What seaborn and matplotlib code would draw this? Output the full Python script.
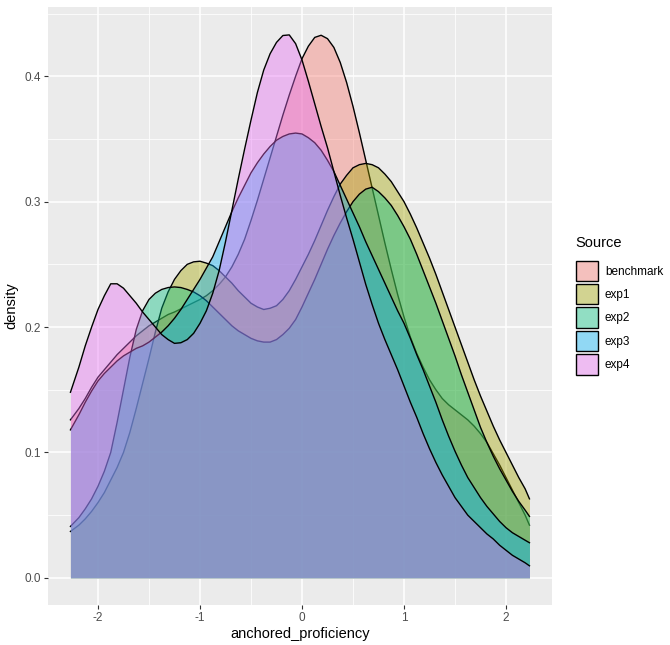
import matplotlib
matplotlib.use("Agg")
import matplotlib.pyplot as plt
import numpy as np
import pandas as pd
import seaborn as sns
from matplotlib.patches import Patch
from matplotlib.colors import to_rgb

# ---------------- data ----------------
x_grid = [-2.27, -2.1875, -2.125, -2.0625, -2.0, -1.9375, -1.875, -1.8125,
          -1.75, -1.6875, -1.625, -1.5625, -1.5, -1.4375, -1.375, -1.3125,
          -1.25, -1.1875, -1.125, -1.0625, -1.0, -0.9375, -0.875, -0.8125,
          -0.75, -0.6875, -0.625, -0.5625, -0.5, -0.4375, -0.375, -0.3125,
          -0.25, -0.1875, -0.125, -0.0625, 0.0, 0.0625, 0.125, 0.1875,
          0.25, 0.3125, 0.375, 0.4375, 0.5, 0.5625, 0.625, 0.6875,
          0.75, 0.8125, 0.875, 0.9375, 1.0, 1.0625, 1.125, 1.1875,
          1.25, 1.3125, 1.375, 1.4375, 1.5, 1.5625, 1.625, 1.6875,
          1.75, 1.8125, 1.875, 1.9375, 2.0, 2.0625, 2.125, 2.1875,
          2.23]

benchmark = [0.126, 0.135, 0.143, 0.152, 0.160, 0.166, 0.172, 0.178,
             0.183, 0.188, 0.193, 0.197, 0.201, 0.204, 0.207, 0.210,
             0.212, 0.2145, 0.217, 0.2195, 0.222, 0.225, 0.229, 0.234,
             0.240, 0.248, 0.258, 0.270, 0.285, 0.301, 0.318, 0.335,
             0.352, 0.369, 0.385, 0.400, 0.414, 0.424, 0.431, 0.4327,
             0.430, 0.423, 0.411, 0.395, 0.376, 0.355, 0.333, 0.311,
             0.289, 0.267, 0.246, 0.226, 0.208, 0.192, 0.179, 0.168,
             0.158, 0.150, 0.143, 0.138, 0.134, 0.130, 0.126, 0.121,
             0.115, 0.108, 0.099, 0.090, 0.080, 0.070, 0.060, 0.050,
             0.042]

exp1 = [0.037, 0.042, 0.047, 0.053, 0.060, 0.068, 0.078, 0.088,
        0.100, 0.116, 0.135, 0.155, 0.175, 0.196, 0.215, 0.228,
        0.238, 0.245, 0.250, 0.252, 0.2525, 0.251, 0.249, 0.245,
        0.240, 0.235, 0.229, 0.224, 0.219, 0.216, 0.214, 0.215,
        0.217, 0.222, 0.229, 0.238, 0.248, 0.258, 0.269, 0.281,
        0.293, 0.304, 0.314, 0.321, 0.327, 0.3295, 0.3305, 0.3295,
        0.327, 0.322, 0.316, 0.308, 0.300, 0.290, 0.279, 0.267,
        0.255, 0.242, 0.228, 0.214, 0.200, 0.186, 0.172, 0.158,
        0.145, 0.133, 0.121, 0.110, 0.100, 0.090, 0.080, 0.071,
        0.063]

exp2 = [0.041, 0.048, 0.055, 0.063, 0.073, 0.085, 0.100, 0.124,
        0.150, 0.176, 0.198, 0.213, 0.222, 0.227, 0.230, 0.2315,
        0.232, 0.2315, 0.230, 0.228, 0.225, 0.221, 0.216, 0.211,
        0.206, 0.201, 0.197, 0.194, 0.191, 0.189, 0.188, 0.188,
        0.190, 0.194, 0.199, 0.206, 0.216, 0.227, 0.238, 0.250,
        0.262, 0.273, 0.283, 0.292, 0.300, 0.306, 0.310, 0.3115,
        0.308, 0.303, 0.297, 0.289, 0.280, 0.270, 0.258, 0.245,
        0.232, 0.219, 0.205, 0.191, 0.177, 0.162, 0.148, 0.134,
        0.120, 0.108, 0.097, 0.087, 0.078, 0.069, 0.061, 0.054,
        0.049]

exp3 = [0.118, 0.130, 0.140, 0.149, 0.157, 0.163, 0.168, 0.173,
        0.177, 0.180, 0.183, 0.185, 0.188, 0.192, 0.196, 0.201,
        0.207, 0.214, 0.222, 0.230, 0.238, 0.247, 0.256, 0.268,
        0.280, 0.292, 0.303, 0.313, 0.323, 0.331, 0.338, 0.344,
        0.349, 0.352, 0.354, 0.3547, 0.354, 0.351, 0.347, 0.341,
        0.333, 0.324, 0.313, 0.302, 0.291, 0.280, 0.268, 0.257,
        0.246, 0.235, 0.224, 0.213, 0.203, 0.191, 0.178, 0.166,
        0.153, 0.140, 0.126, 0.113, 0.101, 0.090, 0.080, 0.072,
        0.064, 0.057, 0.051, 0.045, 0.040, 0.036, 0.033, 0.030,
        0.028]

exp4 = [0.148, 0.168, 0.185, 0.200, 0.214, 0.225, 0.2345, 0.2345,
        0.231, 0.225, 0.219, 0.212, 0.206, 0.200, 0.194, 0.190,
        0.187, 0.1875, 0.190, 0.195, 0.203, 0.213, 0.227, 0.245,
        0.268, 0.293, 0.318, 0.342, 0.365, 0.387, 0.405, 0.418,
        0.427, 0.4325, 0.433, 0.426, 0.413, 0.396, 0.378, 0.360,
        0.343, 0.324, 0.305, 0.287, 0.270, 0.252, 0.234, 0.218,
        0.203, 0.190, 0.178, 0.166, 0.153, 0.140, 0.128, 0.115,
        0.103, 0.092, 0.082, 0.073, 0.064, 0.057, 0.050, 0.045,
        0.040, 0.035, 0.031, 0.026, 0.022, 0.018, 0.015, 0.012,
        0.0096]

sources = ["benchmark", "exp1", "exp2", "exp3", "exp4"]
series = [benchmark, exp1, exp2, exp3, exp4]
colors = ["#F8766D", "#A3A500", "#00BF7D", "#00B0F6", "#E76BF3"]

x_ticks = [-2, -1, 0, 1, 2]
x_tick_labels = ["-2", "-1", "0", "1", "2"]
y_ticks = [0.0, 0.1, 0.2, 0.3, 0.4]
y_tick_labels = ["0.0", "0.1", "0.2", "0.3", "0.4"]

df = pd.concat(
    [pd.DataFrame({"anchored_proficiency": x_grid, "density": vals, "Source": s})
     for s, vals in zip(sources, series)],
    ignore_index=True,
)

# ---------------- figure ----------------
plt.rcParams["font.family"] = ["Liberation Sans", "DejaVu Sans"]
plt.rcParams["axes.unicode_minus"] = False

fig = plt.figure(figsize=(6.7, 6.45), dpi=100)
ax = fig.add_axes([0.0709, 0.062, 0.7536, 0.927])
ax.set_facecolor("#EBEBEB")

for i, (s, c) in enumerate(zip(sources, colors)):
    sub = df[df["Source"] == s]
    ax.fill_between(sub["anchored_proficiency"], sub["density"], 0,
                    color=c, alpha=0.4, lw=0, zorder=2 + 2 * i)
    sns.lineplot(data=sub, x="anchored_proficiency", y="density", color="black",
                 lw=1.0, ax=ax, zorder=3 + 2 * i, legend=False)

ax.set_xlim(-2.495, 2.455)
ax.set_ylim(-0.02167, 0.45517)

ax.set_xticks(x_ticks)
ax.set_xticklabels(x_tick_labels)
ax.set_yticks(y_ticks)
ax.set_yticklabels(y_tick_labels)
ax.set_xticks([-1.5, -0.5, 0.5, 1.5], minor=True)
ax.set_yticks([0.05, 0.15, 0.25, 0.35, 0.45], minor=True)

ax.set_axisbelow(True)
ax.grid(which="major", color="white", lw=1.1)
ax.grid(which="minor", color="white", lw=0.55)
for sp in ax.spines.values():
    sp.set_visible(False)

ax.tick_params(which="major", length=2.7, width=0.8, color="#333333",
               labelcolor="#4D4D4D", labelsize=8.5, pad=2.2)
ax.tick_params(which="minor", length=0)

ax.set_xlabel("anchored_proficiency", fontsize=10.5, color="black", labelpad=2.5)
ax.set_ylabel("density", fontsize=10.5, color="black", labelpad=4)

# legend
bg = np.array(to_rgb("#F2F2F2"))
handles = []
for c in colors:
    fc = 0.4 * np.array(to_rgb(c)) + 0.6 * bg
    handles.append(Patch(facecolor=fc, edgecolor="black", lw=1.0))
fig.text(575 / 670, 1 - 243 / 645, "Source", fontsize=10.5, color="black",
         ha="left", va="center")
fig.legend(handles, sources, loc="upper left",
           bbox_to_anchor=(0.8597, 0.596), frameon=False, fontsize=8.5,
           handlelength=1.85, handleheight=2.3,
           labelspacing=0.24, handletextpad=0.6, borderaxespad=0, borderpad=0)

fig.savefig("out.png", dpi=100)
